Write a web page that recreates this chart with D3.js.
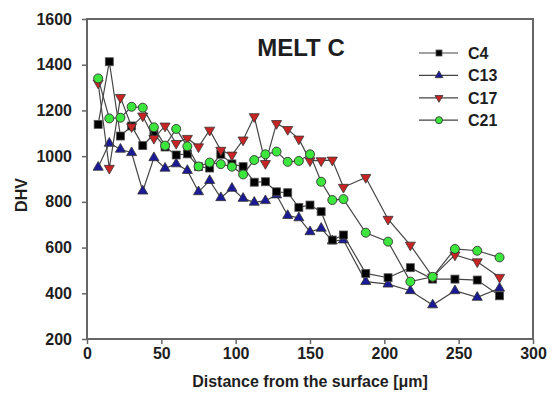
<!DOCTYPE html>
<html>
<head>
<meta charset="utf-8">
<script src="https://cdn.jsdelivr.net/npm/d3@7"></script>
<style>
  body { margin: 0; background: #fff; }
  svg { display: block; font-family: 'Liberation Sans', Arial, sans-serif; }
</style>
</head>
<body>
<div id="chart"></div>
<script>
// Depth below the surface (um)
const distance = [
  7.5, 15, 22.5, 30, 37.5, 45, 52.5, 60, 67.5, 75, 82.5, 90, 97.5, 105, 112.5,
  120, 127.5, 135, 142.5, 150, 157.5, 165, 172.5, 187.5, 202.5, 217.5, 232.5,
  247.5, 262.5, 277.5
]

// Hardness (DHV) per sample
const c4 = [
  1139, 1413, 1088, 1132, 1046, 1097, 1040, 1005, 1010, 954, 948, 1008, 966, 954, 886,
  888, 844, 840, 776, 786, 757, 633, 655, 487, 468, 512, 462, 462, 458, 389
]
const c13 = [
  951, 1056, 1030, 1015, 847, 993, 947, 966, 937, 844, 893, 818, 859, 815, 798,
  805, 830, 740, 730, 669, 684, 629, 633, 451, 440, 411, 349, 411, 382, 422
]
const c17 = [
  1320, 947, 1257, 1129, 1176, 1078, 1132, 1056, 1078, 1041, 1114, 1026, 1005, 1071, 1173,
  968, 1143, 1117, 1075, 980, 980, 983, 864, 907, 724, 611, 472, 568, 538, 470
]
const c21 = [
  1340, 1165, 1168, 1216, 1212, 1126, 1046, 1119, 1043, 955, 972, 965, 954, 920, 983,
  1008, 1020, 975, 979, 1008, 888, 808, 812, 665, 626, 451, 472, 594, 586, 557
]

const seriesNames = ['C4', 'C13', 'C17', 'C21']
const xTicks = [0, 50, 100, 150, 200, 250, 300]
const yTicks = [200, 400, 600, 800, 1000, 1200, 1400, 1600]

const width = 552
const height = 398
const margin = { top: 19, right: 19, bottom: 59, left: 87 }

const series = [
  { name: seriesNames[0], values: c4, shape: 'square', fill: '#000000' },
  { name: seriesNames[1], values: c13, shape: 'up', fill: '#1a1a96' },
  { name: seriesNames[2], values: c17, shape: 'down', fill: '#c82424' },
  { name: seriesNames[3], values: c21, shape: 'circle', fill: '#3de63d' }
]

const svg = d3.select('#chart')
  .append('svg')
  .attr('width', width)
  .attr('height', height)

const x = d3.scaleLinear()
  .domain([0, 300])
  .range([margin.left, width - margin.right])

const y = d3.scaleLinear()
  .domain([200, 1600])
  .range([height - margin.bottom, margin.top])

const axisColor = '#666'
const labelColor = '#1e1e1e'

// Axes (ticks outward, bold labels, no thousands separator)
const xAxis = svg.append('g')
  .attr('transform', `translate(0, ${y(200)})`)
  .call(d3.axisBottom(x).tickValues(xTicks).tickFormat(d3.format('d'))
    .tickSize(5).tickPadding(4).tickSizeOuter(0))

const yAxis = svg.append('g')
  .attr('transform', `translate(${x(0)}, 0)`)
  .call(d3.axisLeft(y).tickValues(yTicks).tickFormat(d3.format('d'))
    .tickSize(5).tickPadding(10).tickSizeOuter(0))

for (const axis of [xAxis, yAxis]) {
  axis.select('.domain').remove()
  axis.selectAll('line').attr('stroke', axisColor).attr('stroke-width', 1.5)
  axis.selectAll('text')
    .attr('fill', labelColor)
    .style('font-size', '16px')
    .style('font-weight', 'bold')
}

// Frame
svg.append('rect')
  .attr('x', x(0))
  .attr('y', y(1600))
  .attr('width', x(300) - x(0))
  .attr('height', y(200) - y(1600))
  .attr('fill', 'none')
  .attr('stroke', axisColor)
  .attr('stroke-width', 2)

// Axis titles
svg.append('text')
  .attr('x', (x(0) + x(300)) / 2)
  .attr('y', 387)
  .attr('text-anchor', 'middle')
  .attr('fill', labelColor)
  .style('font-size', '16px')
  .style('font-weight', 'bold')
  .text('Distance from the surface [μm]')

svg.append('text')
  .attr('transform', 'translate(27, 195) rotate(-90)')
  .attr('text-anchor', 'middle')
  .attr('fill', labelColor)
  .style('font-size', '16px')
  .style('font-weight', 'bold')
  .text('DHV')

svg.append('text')
  .attr('x', 301)
  .attr('y', 56)
  .attr('text-anchor', 'middle')
  .attr('fill', labelColor)
  .style('font-size', '24px')
  .style('font-weight', 'bold')
  .text('MELT C')

const drawMarker = (sel, s, size) => {
  const stroke = '#333'
  if (s.shape === 'square') {
    sel.append('rect')
      .attr('x', -size / 2)
      .attr('y', -size / 2)
      .attr('width', size)
      .attr('height', size)
      .attr('fill', s.fill)
      .attr('stroke', '#555')
      .attr('stroke-width', 0.8)
  } else if (s.shape === 'circle') {
    sel.append('circle')
      .attr('r', size / 2)
      .attr('fill', s.fill)
      .attr('stroke', stroke)
      .attr('stroke-width', 0.9)
  } else {
    const area = size * size * Math.sqrt(3) / 4 * 1.25
    sel.append('path')
      .attr('d', d3.symbol(d3.symbolTriangle, area)())
      .attr('transform', s.shape === 'down' ? 'rotate(180)' : null)
      .attr('fill', s.fill)
      .attr('stroke', stroke)
      .attr('stroke-width', 0.8)
  }
}

const line = d3.line()
  .x(d => x(d[0]))
  .y(d => y(d[1]))

// Draw order roughly as in the original: blue, black, red, green on top
const drawOrder = [series[1], series[0], series[2], series[3]]

for (const s of drawOrder) {
  const points = distance.map((d, i) => [d, s.values[i]])
  const g = svg.append('g')
  g.append('path')
    .datum(points)
    .attr('d', line)
    .attr('fill', 'none')
    .attr('stroke', '#454545')
    .attr('stroke-width', 1.2)
  g.selectAll('g.pt')
    .data(points)
    .join('g')
    .attr('class', 'pt')
    .attr('transform', d => `translate(${x(d[0])}, ${y(d[1])})`)
    .each(function () { drawMarker(d3.select(this), s, s.shape === 'square' ? 8 : 9) })
}

// Legend
const legend = svg.append('g')
  .attr('transform', 'translate(419, 53)')

series.forEach((s, i) => {
  const row = legend.append('g').attr('transform', `translate(0, ${i * 22.4})`)
  row.append('line')
    .attr('x1', 0)
    .attr('x2', 39)
    .attr('stroke', '#454545')
    .attr('stroke-width', 1.2)
  const m = row.append('g').attr('transform', 'translate(20, 0)')
  drawMarker(m, s, s.shape === 'square' ? 6 : 7)
  row.append('text')
    .attr('x', 49)
    .attr('dy', '0.36em')
    .attr('fill', labelColor)
    .style('font-size', '16px')
    .style('font-weight', 'bold')
    .text(s.name)
})
</script>
</body>
</html>
